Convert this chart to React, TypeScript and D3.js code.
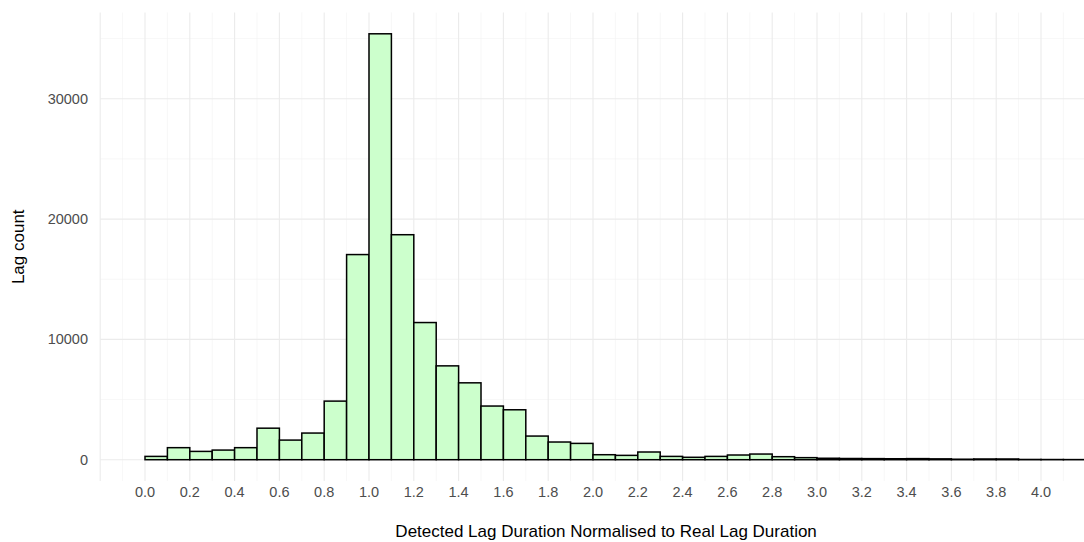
import { useEffect, useRef } from 'react';
import * as d3 from 'd3';

// bin start (width 0.1) and count
const binStarts = [
  0.0, 0.1, 0.2, 0.3, 0.4, 0.5, 0.6, 0.7, 0.8, 0.9,
  1.0, 1.1, 1.2, 1.3, 1.4, 1.5, 1.6, 1.7, 1.8, 1.9,
  2.0, 2.1, 2.2, 2.3, 2.4, 2.5, 2.6, 2.7, 2.8, 2.9,
  3.0, 3.1, 3.2, 3.3, 3.4, 3.5, 3.6, 3.7, 3.8, 3.9,
  4.0, 4.1, 4.2, 4.3,
];
const binCounts = [
  275, 1000, 690, 800, 1000, 2620, 1630, 2215, 4870, 17050,
  35400, 18700, 11400, 7800, 6390, 4460, 4150, 1965, 1470, 1355,
  415, 360, 640, 275, 200, 275, 390, 470, 250, 170,
  120, 100, 90, 80, 90, 70, 40, 60, 60, 20,
  15, 10, 8, 6,
];
const binWidth = 0.1;

const xTicks = [0, 0.2, 0.4, 0.6, 0.8, 1.0, 1.2, 1.4, 1.6, 1.8, 2.0, 2.2, 2.4, 2.6, 2.8, 3.0, 3.2, 3.4, 3.6, 3.8, 4.0];
const yTicks = [0, 10000, 20000, 30000];

const xTitle = 'Detected Lag Duration Normalised to Real Lag Duration';
const yTitle = 'Lag count';

const W = 1084;
const H = 542;

const Histogram = () => {
  const svgRef = useRef<SVGSVGElement>(null);

  useEffect(() => {
    if (!svgRef.current) return;
    const svg = d3.select(svgRef.current);
    svg.selectAll('*').remove();

    const left = 100.2;
    const top = 12.5;
    const bottom = 481;
    const right = W;

    // ggplot style 5% expansion around [0, 4] and [0, max]
    const yMax = d3.max(binCounts) as number;
    const x = d3.scaleLinear().domain([-0.2, 4.2]).range([left, 145 + 4.2 * 224]);
    const y = d3.scaleLinear().domain([-0.05 * yMax, 1.05 * yMax]).range([bottom, top]);

    svg.append('defs').append('clipPath').attr('id', 'panel')
      .append('rect').attr('x', left).attr('y', top).attr('width', right - left).attr('height', bottom - top);

    const grid = svg.append('g');
    // minor grid
    const xMinor = d3.range(-0.1, 4.2, 0.2);
    grid.selectAll('line.xm').data(xMinor).enter().append('line')
      .attr('x1', (d) => x(d)).attr('x2', (d) => x(d)).attr('y1', top).attr('y2', bottom)
      .attr('stroke', '#f2f2f2').attr('stroke-width', 0.6);
    const yMinor = [5000, 15000, 25000, 35000];
    grid.selectAll('line.ym').data(yMinor).enter().append('line')
      .attr('x1', left).attr('x2', right).attr('y1', (d) => y(d)).attr('y2', (d) => y(d))
      .attr('stroke', '#f2f2f2').attr('stroke-width', 0.6);
    // major grid
    grid.selectAll('line.xM').data([-0.2, ...xTicks, 4.2]).enter().append('line')
      .attr('x1', (d) => x(d)).attr('x2', (d) => x(d)).attr('y1', top).attr('y2', bottom)
      .attr('stroke', '#ebebeb').attr('stroke-width', 1.1);
    grid.selectAll('line.yM').data(yTicks).enter().append('line')
      .attr('x1', left).attr('x2', right).attr('y1', (d) => y(d)).attr('y2', (d) => y(d))
      .attr('stroke', '#ebebeb').attr('stroke-width', 1.1);

    // bars
    svg.append('g').attr('clip-path', 'url(#panel)')
      .selectAll('rect')
      .data(binStarts.map((s, i) => ({ s, c: binCounts[i] })))
      .enter()
      .append('rect')
      .attr('x', (d) => x(d.s))
      .attr('width', (d) => x(d.s + binWidth) - x(d.s))
      .attr('y', (d) => y(d.c))
      .attr('height', (d) => y(0) - y(d.c))
      .attr('fill', '#ccffcc')
      .attr('stroke', '#000')
      .attr('stroke-width', 1.5);

    const font = "'Liberation Sans', Arial, sans-serif";

    svg.append('g').selectAll('text').data(xTicks).enter().append('text')
      .attr('x', (d) => x(d)).attr('y', 497)
      .attr('text-anchor', 'middle')
      .attr('font-family', font).attr('font-size', 14.5).attr('fill', '#4d4d4d')
      .text((d) => d.toFixed(1));

    svg.append('g').selectAll('text').data(yTicks).enter().append('text')
      .attr('x', 88).attr('y', (d) => y(d) + 5)
      .attr('text-anchor', 'end')
      .attr('font-family', font).attr('font-size', 14.5).attr('fill', '#4d4d4d')
      .text((d) => String(d));

    svg.append('text')
      .attr('x', (left + right) / 2 + 14).attr('y', 537)
      .attr('text-anchor', 'middle')
      .attr('font-family', font).attr('font-size', 17).attr('fill', '#000')
      .text(xTitle);

    svg.append('text')
      .attr('transform', `translate(23.5,${(top + bottom) / 2}) rotate(-90)`)
      .attr('text-anchor', 'middle')
      .attr('font-family', font).attr('font-size', 17).attr('fill', '#000')
      .text(yTitle);
  }, []);

  return (
    <svg ref={svgRef} width={W} height={H}
      style={{ position: 'absolute', left: 0, top: 0, background: '#fff' }} />
  );
};

export default function App() {
  return <Histogram />;
}
